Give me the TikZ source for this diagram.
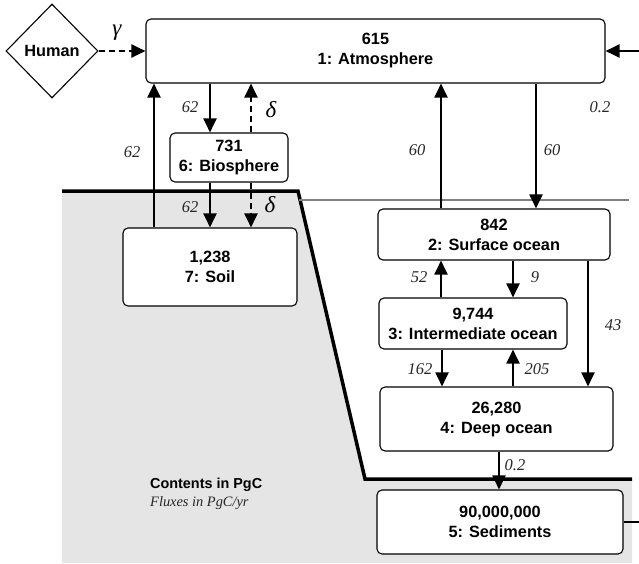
\documentclass[tikz,border=0pt]{standalone}
\usepackage{fontspec}
\setmainfont{Liberation Serif}
\newfontfamily\hv{Liberation Sans}
\usetikzlibrary{shapes.geometric,arrows.meta}
\definecolor{landgray}{HTML}{E5E5E5}
\definecolor{seaLine}{HTML}{808080}
\tikzset{
  box/.style={draw, line width=1.1pt, rounded corners=5pt, fill=white, align=center,
    font=\hv\bfseries\fontsize{16.3}{20}\selectfont, inner sep=0pt},
  arr/.style={line width=2pt, -{Triangle[length=14pt,width=13pt]}},
  darr/.style={arr, dash pattern=on 6pt off 4pt},
  flux/.style={font=\itshape\fontsize{16.5}{19}\selectfont, text=black!85},
  greek/.style={font=\itshape\fontsize{23}{25}\selectfont},
}
\begin{document}
\begin{tikzpicture}[x=1pt,y=-1pt]
\useasboundingbox (0,0) rectangle (639,564);
% land / sediment background
\fill[landgray] (62,191) -- (298,191) -- (365,479) -- (632,479) -- (632,563) -- (62,563) -- cycle;
\draw[line width=3.5pt, line join=miter] (62,191) -- (298,191) -- (365,479) -- (632,479);
\draw[seaLine, line width=2pt] (299,200) -- (629,200);

% nodes
\node[draw, diamond, line width=1.1pt, minimum width=92pt, minimum height=94pt, inner sep=0pt,
  font=\hv\bfseries\fontsize{16.3}{20}\selectfont] (hum) at (52,51) {Human};
\node[box, minimum width=459pt, minimum height=64pt] (atm) at (375.5,51) {615\\1: Atmosphere};
\node[box, minimum width=118pt, minimum height=49pt] (bio) at (229,157.5) {731\\6: Biosphere};
\node[box, minimum width=174pt, minimum height=78pt] (soil) at (210,267) {1,238\\7: Soil};
\node[box, minimum width=232pt, minimum height=51pt] (surf) at (494,234.5) {842\\2: Surface ocean};
\node[box, minimum width=188pt, minimum height=51pt] (inter) at (473,323.5) {9,744\\3: Intermediate ocean};
\node[box, minimum width=233pt, minimum height=64pt] (deep) at (496.5,419) {26,280\\4: Deep ocean};
\node[box, minimum width=246pt, minimum height=64pt] (sed) at (500,522) {90,000,000\\5: Sediments};

% helper x positions
\coordinate (x154) at (154,0);
\coordinate (x210) at (210,0);
\coordinate (x251) at (251,0);
\coordinate (x441) at (441,0);
\coordinate (x536) at (536,0);
\coordinate (x513) at (513,0);
\coordinate (x588) at (588,0);
\coordinate (x442) at (442,0);
\coordinate (x499) at (499,0);
\coordinate (rin) at (639,51);
\coordinate (rout) at (639,522);

% connectors
\draw[darr] (hum.east) -- (atm.west);
\draw[arr] (atm.south -| x210) -- (bio.north -| x210);
\draw[darr] (bio.north -| x251) -- (atm.south -| x251);
\draw[arr] (soil.north -| x154) -- (atm.south -| x154);
\draw[arr] (bio.south -| x210) -- (soil.north -| x210);
\draw[darr] (bio.south -| x251) -- (soil.north -| x251);
\draw[arr] (surf.north -| x441) -- (atm.south -| x441);
\draw[arr] (atm.south -| x536) -- (surf.north -| x536);
\draw[arr] (inter.north -| x441) -- (surf.south -| x441);
\draw[arr] (surf.south -| x513) -- (inter.north -| x513);
\draw[arr] (surf.south -| x588) -- (deep.north -| x588);
\draw[arr] (inter.south -| x442) -- (deep.north -| x442);
\draw[arr] (deep.north -| x513) -- (inter.south -| x513);
\draw[arr] (deep.south -| x499) -- (sed.north -| x499);
\draw[arr] (rin) -- (atm.east);
\draw[line width=2pt] (sed.east |- rout) -- (rout);

% labels
\node[greek] at (117,33) {γ};
\node[greek] at (271,110) {δ};
\node[greek] at (270,205) {δ};
\node[flux] at (190,107) {62};
\node[flux] at (132,152) {62};
\node[flux] at (190,207) {62};
\node[flux] at (417,150) {60};
\node[flux] at (552,150) {60};
\node[flux] at (600,107) {0.2};
\node[flux] at (419,277) {52};
\node[flux] at (535,277) {9};
\node[flux] at (613,325) {43};
\node[flux] at (420,369) {162};
\node[flux] at (537,369) {205};
\node[flux] at (515,465) {0.2};

\node[anchor=west, font=\hv\bfseries\fontsize{14.4}{17}\selectfont, inner sep=0pt] (leg1) at (150,485) {Contents in PgC};
\node[anchor=west, font=\itshape\fontsize{14.4}{17}\selectfont, inner sep=0pt, text=black!85] (leg2) at (150,503) {Fluxes in PgC/yr};
\end{tikzpicture}
\end{document}
